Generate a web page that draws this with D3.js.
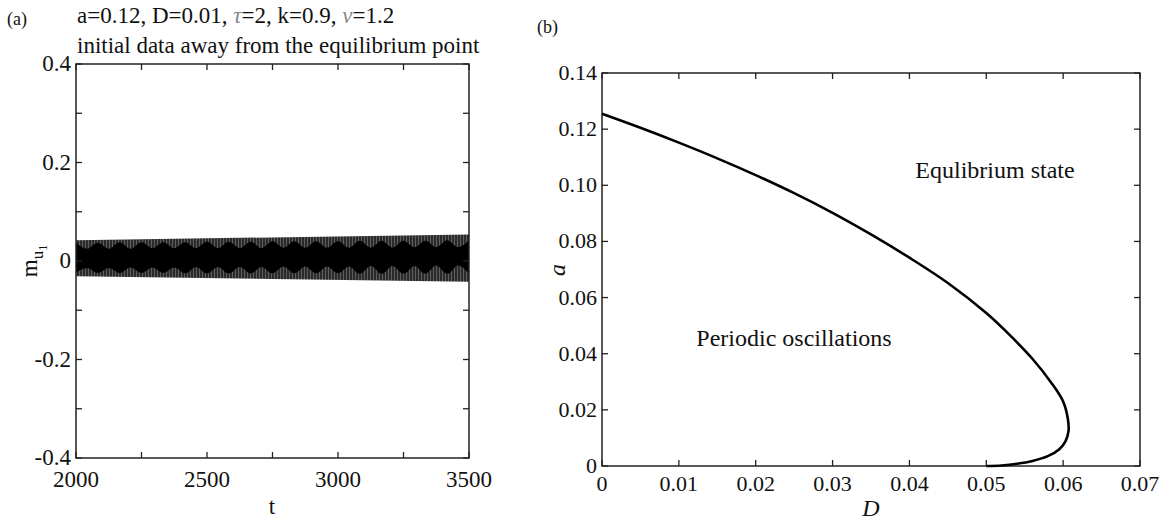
<!DOCTYPE html>
<html><head><meta charset="utf-8">
<script src="https://cdn.jsdelivr.net/npm/d3@7"></script>
<style>body{margin:0;background:#fff}text{font-family:"Liberation Serif","Times New Roman",serif;fill:#111}</style>
</head><body><svg id="c" width="1172" height="524"></svg>
<script>
// ---- Panel (a) data ----
const tDomain = [2000, 3500];
const mDomain = [-0.4, 0.4];
const tTicks = [2000, 2250, 2500, 2750, 3000, 3250, 3500];
const tLabels = [2000, 2500, 3000, 3500];
const mTicks = [-0.4, -0.3, -0.2, -0.1, 0, 0.1, 0.2, 0.3, 0.4];
const mLabels = [-0.4, -0.2, 0, 0.2, 0.4];
// outer envelope of the oscillation
const envT = [2000, 3500];
const envTop = [0.042, 0.054];
const envBottom = [-0.031, -0.042];
// dense core (beating pattern) vertices
const coreT = [2000,2042,2083,2125,2167,2208,2250,2292,2333,2375,2417,2458,2500,2542,2583,2625,2667,2708,2750,2792,2833,2875,2917,2958,3000,3042,3083,3125,3167,3208,3250,3292,3333,3375,3417,3458,3500];
const coreTop = [0.037,0.025,0.037,0.025,0.038,0.025,0.038,0.026,0.038,0.026,0.038,0.026,0.039,0.026,0.039,0.026,0.039,0.026,0.040,0.027,0.040,0.027,0.040,0.027,0.040,0.027,0.041,0.027,0.041,0.027,0.041,0.028,0.041,0.028,0.042,0.028,0.042];
const coreBottom = [-0.024,-0.014,-0.024,-0.014,-0.024,-0.013,-0.024,-0.013,-0.024,-0.013,-0.025,-0.012,-0.025,-0.012,-0.025,-0.012,-0.025,-0.012,-0.025,-0.011,-0.025,-0.011,-0.025,-0.011,-0.025,-0.011,-0.026,-0.010,-0.026,-0.010,-0.026,-0.010,-0.026,-0.009,-0.026,-0.009,-0.026];

// ---- Panel (b) data ----
const dDomain = [0, 0.07];
const aDomain = [0, 0.14];
const dTicks = [0, 0.01, 0.02, 0.03, 0.04, 0.05, 0.06, 0.07];
const aTicks = [0, 0.02, 0.04, 0.06, 0.08, 0.10, 0.12, 0.14];
const curveD = [0, 0.005, 0.010, 0.015, 0.020, 0.025, 0.030, 0.035, 0.040, 0.045, 0.050, 0.053, 0.056, 0.0585, 0.0600, 0.0606, 0.0607, 0.0603, 0.0595, 0.058, 0.056, 0.054, 0.052, 0.050];
const curveA = [0.1255, 0.1205, 0.1152, 0.1096, 0.1036, 0.0972, 0.0902, 0.0825, 0.0742, 0.0652, 0.0545, 0.0468, 0.0382, 0.0295, 0.0230, 0.0170, 0.0125, 0.0088, 0.0060, 0.0035, 0.0018, 0.0008, 0.0002, 0];

const svg = d3.select('#c');
const defs = svg.append('defs');
const pat = defs.append('pattern').attr('id','hatch').attr('patternUnits','userSpaceOnUse').attr('width',3).attr('height',10);
pat.append('rect').attr('width',3).attr('height',10).attr('fill','#2a2a2a');
pat.append('rect').attr('x',1).attr('width',1).attr('height',10).attr('fill','#5e5e5e');

const hy = v => String(v).replace('\u2212','-');
function boxAxes(g, x, y, xt, yt, xl, yl, xfmt, yfmt, fs, xoff){
  const [x0,x1]=x.range(), [y0,y1]=y.range();
  const tl=6;
  const ax = g.append('g');
  ax.append('rect').attr('x',x0).attr('y',y1).attr('width',x1-x0).attr('height',y0-y1)
    .attr('fill','none').attr('stroke','#222').attr('stroke-width',1.5);
  xt.forEach(v=>{
    const px=x(v);
    ax.append('line').attr('x1',px).attr('x2',px).attr('y1',y0).attr('y2',y0-tl).attr('stroke','#222').attr('stroke-width',1.3);
    ax.append('line').attr('x1',px).attr('x2',px).attr('y1',y1).attr('y2',y1+tl).attr('stroke','#222').attr('stroke-width',1.3);
  });
  yt.forEach(v=>{
    const py=y(v);
    ax.append('line').attr('y1',py).attr('y2',py).attr('x1',x0).attr('x2',x0+tl).attr('stroke','#222').attr('stroke-width',1.3);
    ax.append('line').attr('y1',py).attr('y2',py).attr('x1',x1).attr('x2',x1-tl).attr('stroke','#222').attr('stroke-width',1.3);
  });
  xl.forEach(v=>{
    ax.append('text').attr('x',x(v)).attr('y',y0+xoff).attr('text-anchor','middle').attr('font-size',fs).text(hy(xfmt(v)));
  });
  yl.forEach(v=>{
    ax.append('text').attr('x',x0-5).attr('y',y(v)+7).attr('text-anchor','end').attr('font-size',fs).text(hy(yfmt(v)));
  });
}

// ---- Panel (a) ----
const xa = d3.scaleLinear().domain(tDomain).range([76, 469]);
const ya = d3.scaleLinear().domain(mDomain).range([458, 64]);
const ga = svg.append('g');
const env = envT.map((t,i)=>({t, hi:envTop[i], lo:envBottom[i]}));
ga.append('path').datum(env).attr('fill','url(#hatch)')
  .attr('d', d3.area().x(d=>xa(d.t)).y0(d=>ya(d.lo)).y1(d=>ya(d.hi)));
const core = coreT.map((t,i)=>({t, hi:coreTop[i], lo:coreBottom[i]}));
ga.append('path').datum(core).attr('fill','#000')
  .attr('d', d3.area().x(d=>xa(d.t)).y0(d=>ya(d.lo)).y1(d=>ya(d.hi)).curve(d3.curveMonotoneX));
const fmtA = v => (Math.abs(v)<1e-9 ? '0' : d3.format('.1f')(v));
boxAxes(ga, xa, ya, tTicks, mTicks, tLabels, mLabels, d3.format('d'), fmtA, 23, 29);
svg.append('text').attr('x',7).attr('y',25).attr('font-size',18).text('(a)');
const t1 = svg.append('text').attr('x',77).attr('y',23).attr('font-size',23);
t1.append('tspan').text('a=0.12, D=0.01, ');
t1.append('tspan').attr('font-style','italic').style('fill','#888').text('τ');
t1.append('tspan').text('=2, k=0.9, ');
t1.append('tspan').attr('font-style','italic').style('fill','#888').text('ν');
t1.append('tspan').text('=1.2');
svg.append('text').attr('x',77).attr('y',53).attr('font-size',23).text('initial data away from the equilibrium point');
svg.append('text').attr('x',272).attr('y',514).attr('text-anchor','middle').attr('font-size',23).text('t');
const yl = svg.append('text').attr('transform','translate(37,261) rotate(-90)').attr('text-anchor','middle').attr('font-size',23);
yl.append('tspan').text('m');
yl.append('tspan').attr('dy',6).attr('font-size',17).text('u');
yl.append('tspan').attr('dy',4).attr('font-size',12).text('1');

// ---- Panel (b) ----
const xb = d3.scaleLinear().domain(dDomain).range([602, 1140]);
const yb = d3.scaleLinear().domain(aDomain).range([466, 73]);
const gb = svg.append('g');
const fmtB = v => (Math.abs(v)<1e-9 ? '0' : d3.format('.2f')(v));
boxAxes(gb, xb, yb, dTicks, aTicks, dTicks, aTicks, fmtB, fmtB, 22, 25);
const pts = curveD.map((d,i)=>[d, curveA[i]]);
gb.append('path').datum(pts).attr('fill','none').attr('stroke','#000').attr('stroke-width',2.6)
  .attr('d', d3.line().x(d=>xb(d[0])).y(d=>yb(d[1])).curve(d3.curveCatmullRom.alpha(0.5)));
svg.append('text').attr('x',537).attr('y',33).attr('font-size',18).text('(b)');
svg.append('text').attr('x',995).attr('y',178).attr('text-anchor','middle').attr('font-size',24).text('Equlibrium state');
svg.append('text').attr('x',794).attr('y',346).attr('text-anchor','middle').attr('font-size',24).text('Periodic oscillations');
svg.append('text').attr('x',871).attr('y',516).attr('text-anchor','middle').attr('font-size',24).attr('font-style','italic').text('D');
svg.append('text').attr('transform','translate(565,270) rotate(-90)').attr('text-anchor','middle').attr('font-size',24).attr('font-style','italic').text('a');
</script></body></html>
